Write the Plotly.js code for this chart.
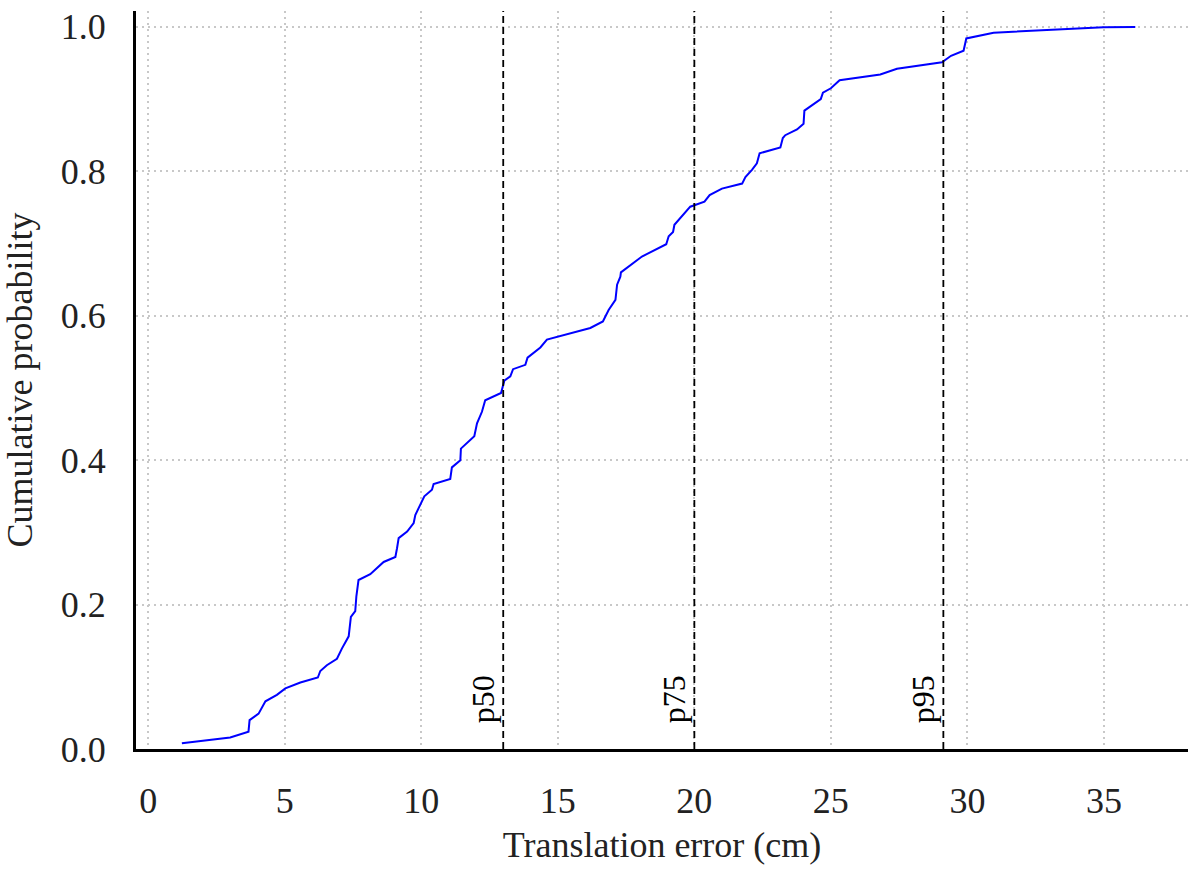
<!DOCTYPE html>
<html>
<head>
<meta charset="utf-8">
<script src="https://cdn.plot.ly/plotly-3.0.1.min.js"></script>
<style>html,body{margin:0;padding:0;background:#fff;}#chart{width:1188px;height:873px;}</style>
</head>
<body>
<div id="chart"></div>
<script>
// Empirical CDF of translation error (cm)
const errorCm = [1.23, 3.0, 3.67, 3.71, 4.04, 4.29, 4.71, 5.02, 5.57, 6.21, 6.30, 6.54, 6.91, 7.09, 7.34, 7.42, 7.58, 7.62, 7.70, 8.13,
  8.62, 9.05, 9.11, 9.17, 9.48, 9.72, 9.78, 10.11, 10.39, 10.45, 11.06, 11.12, 11.43, 11.45, 11.94, 12.04, 12.22, 12.34, 12.92, 13.04,
  13.26, 13.36, 13.81, 13.89, 14.36, 14.60, 16.19, 16.65, 16.86, 17.11, 17.17, 17.29, 17.31, 18.08, 18.97, 19.06, 19.22, 19.27, 19.85, 20.37,
  20.56, 21.01, 21.75, 21.87, 22.11, 22.29, 22.39, 23.15, 23.24, 23.33, 23.76, 24.00, 24.03, 24.28, 24.63, 24.71, 25.0, 25.32, 26.81, 27.42,
  29.07, 29.40, 29.86, 29.96, 30.96, 34.99, 36.15];
const cumProb = [0.008, 0.016, 0.024, 0.040, 0.049, 0.066, 0.075, 0.084, 0.092, 0.099, 0.108, 0.116, 0.125, 0.139, 0.156, 0.183, 0.191, 0.211, 0.234, 0.242,
  0.259, 0.266, 0.278, 0.292, 0.301, 0.313, 0.324, 0.350, 0.359, 0.367, 0.374, 0.390, 0.400, 0.416, 0.433, 0.451, 0.467, 0.483, 0.493, 0.510,
  0.516, 0.526, 0.532, 0.542, 0.556, 0.567, 0.583, 0.592, 0.608, 0.622, 0.643, 0.654, 0.660, 0.682, 0.699, 0.710, 0.716, 0.726, 0.751, 0.758,
  0.767, 0.776, 0.783, 0.792, 0.802, 0.811, 0.825, 0.833, 0.846, 0.850, 0.858, 0.866, 0.884, 0.891, 0.900, 0.909, 0.915, 0.926, 0.934, 0.942,
  0.951, 0.960, 0.967, 0.984, 0.992, 0.9995, 1.0];

// Percentile markers
const pctLabels = ["p50", "p75", "p95"];
const pctValues = [13.0, 20.0, 29.12];

// Axis ticks
const xTicks = [0, 5, 10, 15, 20, 25, 30, 35];
const yTicks = [0.0, 0.2, 0.4, 0.6, 0.8, 1.0];
const yTickText = ["0.0", "0.2", "0.4", "0.6", "0.8", "1.0"];

const FONT = '"Liberation Serif", "Times New Roman", "DejaVu Serif", serif';
const TXT = '#222222';

const trace = {
  x: errorCm, y: cumProb, type: 'scatter', mode: 'lines',
  line: {color: '#0000ff', width: 2}, hoverinfo: 'skip', showlegend: false
};

const shapes = pctValues.map(v => ({
  type: 'line', xref: 'x', yref: 'paper', x0: v, x1: v, y0: 0, y1: 1,
  line: {color: '#000000', width: 1.8, dash: '7px,4px'}
}));

const annotations = pctValues.map((v, i) => ({
  x: v, y: 0, xref: 'x', yref: 'y', text: pctLabels[i], showarrow: false,
  textangle: -90, xanchor: 'right', yanchor: 'bottom', xshift: 0, yshift: 24,
  font: {family: FONT, size: 32, color: '#000000'}
}));

const layout = {
  width: 1188, height: 873,
  margin: {l: 136, r: 0, t: 11, b: 124, pad: 0},
  paper_bgcolor: '#ffffff', plot_bgcolor: '#ffffff',
  font: {family: FONT, size: 36, color: TXT},
  xaxis: {
    range: [-0.45, 38.08], tickvals: xTicks, ticktext: xTicks.map(String),
    showline: true, linecolor: '#000000', linewidth: 3, mirror: false,
    showgrid: true, gridcolor: '#c8c8c8', gridwidth: 2, griddash: '2px,4px',
    zeroline: false, ticks: '', ticklabelstandoff: 18,
    tickfont: {family: FONT, size: 36, color: TXT},
    title: {text: 'Translation error (cm)', font: {family: FONT, size: 36, color: TXT}, standoff: 12},
    automargin: false
  },
  yaxis: {
    range: [0, 1.022], tickvals: yTicks, ticktext: yTickText,
    showline: true, linecolor: '#000000', linewidth: 3, mirror: false,
    showgrid: true, gridcolor: '#c8c8c8', gridwidth: 2, griddash: '2px,4px',
    zeroline: false, ticks: '', ticklabelstandoff: 20,
    tickfont: {family: FONT, size: 36, color: TXT},
    title: {text: 'Cumulative probability', font: {family: FONT, size: 36, color: TXT}, standoff: 20},
    automargin: false
  },
  shapes: shapes,
  annotations: annotations
};

Plotly.newPlot('chart', [trace], layout, {displayModeBar: false, staticPlot: true});
</script>
</body>
</html>
